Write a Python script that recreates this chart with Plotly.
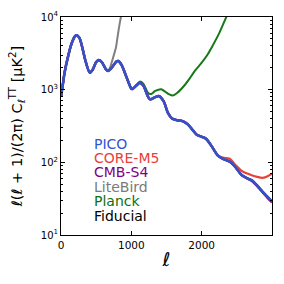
import plotly.graph_objects as go

# Fiducial TT spectrum
ell = [2, 30, 50, 100, 150, 200, 220, 260, 300, 350, 410, 450, 500, 535, 580, 640, 671,
       720, 790, 814, 860, 930, 1000, 1015, 1080, 1120, 1170, 1240, 1267, 1340, 1390,
       1460, 1520, 1580, 1650, 1730, 1800, 1870, 1930, 2000, 2060, 2140, 2230, 2300,
       2400, 2480, 2567, 2650, 2720, 2790, 2853, 2930, 3000]
dl_fid = [820, 1250, 1700, 2850, 4300, 5450, 5600, 5200, 3900, 2450, 1710, 1880, 2400, 2560,
          2400, 1900, 1810, 2000, 2450, 2480, 2200, 1500, 1030, 1020, 1160, 1240, 1140,
          790, 736, 790, 818, 690, 480, 400, 380, 368, 335, 280, 240, 225, 212, 168,
          124, 112, 102, 86, 67, 60, 56, 48, 41, 34, 29]

# PICO (same as fiducial within line width)
ell_pico = ell
dl_pico = dl_fid

# CORE-M5 high-ell part
ell_core_hi = [2300, 2400, 2480, 2570, 2650, 2720, 2790, 2860, 2930, 3000]
dl_core_hi = [116, 112, 92, 76, 70, 66, 63, 61, 64, 70]

# CMB-S4 tail
ell_s4_hi = [2720, 2790, 2853, 2930, 3000]
dl_s4_hi = [55, 47, 40, 33, 28]

# LiteBird divergence
ell_lb_hi = [700, 733, 760, 781, 800, 819, 840, 860, 900]
dl_lb_hi = [2050, 2600, 3200, 3800, 5000, 6600, 8700, 11000, 17000]

# Planck divergence
ell_pl_hi = [1080, 1120, 1170, 1240, 1281, 1340, 1424, 1480, 1540, 1590, 1650, 1760,
             1830, 1900, 2000, 2080, 2160, 2250, 2340, 2400]
dl_pl_hi = [1180, 1290, 1210, 900, 870, 960, 1015, 940, 860, 830, 900, 1160,
            1430, 1800, 2350, 3000, 4100, 6000, 9500, 13000]

y_minor = [20, 30, 40, 50, 60, 70, 80, 90, 200, 300, 400, 500, 600, 700, 800, 900,
           2000, 3000, 4000, 5000, 6000, 7000, 8000, 9000]

def join(lo_cut, l_hi, d_hi):
    ll = [l for l in ell if l < lo_cut]
    dd = [d for l, d in zip(ell, dl_fid) if l < lo_cut]
    return ll + l_hi, dd + d_hi

ell_core, dl_core = join(2300, ell_core_hi, dl_core_hi)
ell_s4, dl_s4 = join(2720, ell_s4_hi, dl_s4_hi)
ell_lb, dl_lb = join(700, ell_lb_hi, dl_lb_hi)
ell_pl, dl_pl = join(1080, ell_pl_hi, dl_pl_hi)

names = ["PICO", "CORE-M5", "CMB-S4", "LiteBird", "Planck", "Fiducial"]
label_colors = ["#2f55d4", "#e8403c", "#800080", "#7a7a7a", "#107010", "#000000"]

fig = go.Figure()
traces = [
    ("Fiducial", ell, dl_fid, "#000000", 2),
    ("Planck", ell_pl, dl_pl, "#17781a", 2),
    ("LiteBird", ell_lb, dl_lb, "#808080", 2),
    ("CMB-S4", ell_s4, dl_s4, "#8a058a", 2.4),
    ("CORE-M5", ell_core, dl_core, "#e5423d", 2.2),
    ("PICO", ell_pico, dl_pico, "#3352c8", 2.6),
]
for n, x, y, c, w in traces:
    fig.add_trace(go.Scatter(x=x, y=y, mode="lines", name=n,
                             line=dict(color=c, width=w, shape="spline", smoothing=0.8),
                             showlegend=False))

ytop = 143
for i, (n, c) in enumerate(zip(names, label_colors)):
    fig.add_annotation(x=(93 - 61) / 211, y=(235 - (ytop + i * 14.4)) / 218,
                       xref="paper", yref="paper", xanchor="left", yanchor="middle",
                       text=n, showarrow=False, height=13, borderpad=0,
                       font=dict(family="DejaVu Sans", size=14, color=c))

fig.update_layout(
    width=284, height=284,
    margin=dict(l=61, r=12, t=17, b=49),
    paper_bgcolor="white", plot_bgcolor="white",
    font=dict(family="DejaVu Sans", color="black"),
    xaxis=dict(range=[0, 3000], tickvals=[0, 1000, 2000], ticktext=["0", "1000", "2000"],
               ticks="inside", ticklen=4, tickcolor="black", mirror="allticks",
               showline=True, linecolor="black", linewidth=1, showgrid=False,
               zeroline=False, tickfont=dict(size=10.5), automargin=False,
               title=dict(text="<i>ℓ</i>", font=dict(size=19), standoff=3)),
    yaxis=dict(type="log", range=[1, 4], tickvals=[10, 100, 1000, 10000],
               ticktext=["10<sup>1</sup>", "10<sup>2</sup>", "10<sup>3</sup>", "10<sup>4</sup>"],
               ticks="inside", ticklen=4, tickcolor="black", mirror="allticks",
               showline=True, linecolor="black", linewidth=1, showgrid=False,
               zeroline=False, tickfont=dict(size=10), automargin=False,
               minor=dict(tickvals=y_minor, ticks="inside", ticklen=2,
                          tickcolor="black", showgrid=False),
               title=dict(text="<i>ℓ</i>(<i>ℓ</i> + 1)/(2π) C<sub><i>ℓ</i></sub><sup>TT</sup> [μK<sup>2</sup>]",
                          font=dict(size=14.5), standoff=14)),
)

fig.write_html("out.html", post_script="document.body.style.margin='0';",
               config={"displayModeBar": False})
